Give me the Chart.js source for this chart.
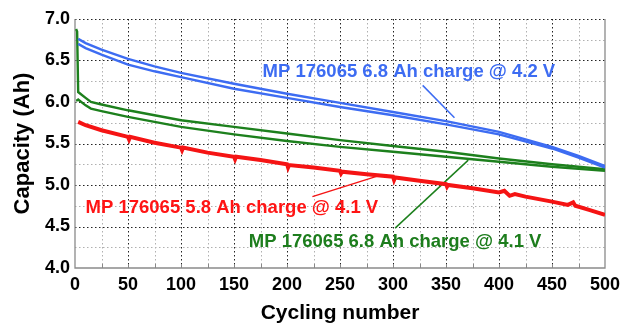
<!DOCTYPE html>
<html><head><meta charset="utf-8">
<script src="https://cdn.jsdelivr.net/npm/chart.js@4.4.1/dist/chart.umd.min.js"></script>
<style>html,body{margin:0;padding:0;background:#fff}#wrap{width:629px;height:326px}</style>
</head><body><div id="wrap"><canvas id="c" width="629" height="326"></canvas></div>
<script>
// ---- data (cycle number, capacity Ah) ----
const blueCycles = [3, 10, 25, 50, 75, 100, 150, 200, 250, 300, 350, 400, 450, 475, 500];
const blueUpper  = [6.76, 6.71, 6.63, 6.52, 6.43, 6.35, 6.22, 6.10, 5.99, 5.88, 5.77, 5.64, 5.46, 5.35, 5.23];
const blueLower  = [6.70, 6.65, 6.57, 6.45, 6.37, 6.30, 6.16, 6.05, 5.94, 5.84, 5.73, 5.61, 5.44, 5.33, 5.21];

const greenCycles = [1, 2, 3, 10, 15, 25, 50, 75, 100, 150, 200, 250, 300, 350, 400, 450, 500];
const greenUpper  = [6.88, 6.85, 6.12, 6.05, 6.00, 5.97, 5.90, 5.84, 5.78, 5.70, 5.62, 5.54, 5.47, 5.40, 5.32, 5.25, 5.19];
const greenLower  = [6.02, 6.02, 6.03, 5.96, 5.92, 5.89, 5.82, 5.76, 5.70, 5.61, 5.53, 5.46, 5.40, 5.34, 5.28, 5.22, 5.17];

const redCycles = [3, 10, 25, 50, 51, 52, 75, 100, 101, 102, 125, 150, 151, 152, 175, 200, 201, 202, 225, 250, 251, 252, 275, 300, 301, 302, 325, 350, 351, 352, 375, 400, 405, 410, 415, 425, 450, 465, 470, 472, 485, 500];
const redCap    = [5.76, 5.72, 5.66, 5.58, 5.55, 5.58, 5.51, 5.45, 5.42, 5.45, 5.39, 5.34, 5.31, 5.34, 5.30, 5.25, 5.21, 5.24, 5.21, 5.17, 5.14, 5.16, 5.13, 5.10, 5.06, 5.09, 5.05, 5.01, 4.98, 5.00, 4.96, 4.91, 4.93, 4.87, 4.89, 4.86, 4.80, 4.76, 4.79, 4.75, 4.70, 4.64];

// leader lines [cycle, Ah] start/end
const blueLeaderCycles = [328, 358];
const blueLeaderCap    = [6.20, 5.81];
const redLeaderCycles  = [224, 286];
const redLeaderCap     = [4.86, 5.11];
const greenLeaderCycles = [302, 371];
const greenLeaderCap    = [4.48, 5.30];

// annotation labels
const labelTexts  = ['MP 176065 6.8 Ah charge @ 4.2 V', 'MP 176065 5.8 Ah charge @ 4.1 V', 'MP 176065 6.8 Ah charge @ 4.1 V'];
const labelCycles = [315, 148, 302];
const labelCaps   = [6.36, 4.72, 4.31];
const labelColors = ['#3d6cf2', '#ff1414', '#1d7d1d'];

const xTicks = [0, 50, 100, 150, 200, 250, 300, 350, 400, 450, 500];
const yTicks = [4.0, 4.5, 5.0, 5.5, 6.0, 6.5, 7.0];

const BLUE = '#3d6cf2', RED = '#f51414', GREEN = '#1d801d';
const pts = (xs, ys) => xs.map((x, i) => ({x: x, y: ys[i]}));
const FONT = "'Liberation Sans', Arial, sans-serif";

const lineDs = (data, color, w) => ({data, borderColor: color, borderWidth: w, pointRadius: 0, tension: 0, fill: false});

const gridPlugin = {
  id: 'grid',
  beforeDatasetsDraw(chart) {
    const {ctx, scales: {x, y}, chartArea: a} = chart;
    ctx.save();
    ctx.lineWidth = 1;
    ctx.setLineDash([1.5, 2.5]);
    for (let v = 25; v < 500; v += 25) {
      const px = Math.round(x.getPixelForValue(v)) + 0.5;
      ctx.strokeStyle = v % 50 === 0 ? '#222' : '#b0b0b0';
      ctx.beginPath(); ctx.moveTo(px, a.top); ctx.lineTo(px, a.bottom); ctx.stroke();
    }
    for (let i = 1; i <= 12; i++) {
      const v = 4 + i * 0.25;
      const py = Math.round(y.getPixelForValue(v)) + 0.5;
      ctx.strokeStyle = i % 2 === 0 ? '#222' : '#b0b0b0';
      ctx.beginPath(); ctx.moveTo(a.left, py); ctx.lineTo(a.right, py); ctx.stroke();
    }
    ctx.setLineDash([]);
    ctx.strokeStyle = '#8a8a8a'; ctx.lineWidth = 1.3;
    ctx.beginPath();
    ctx.moveTo(a.left, a.top); ctx.lineTo(a.left, a.bottom); ctx.lineTo(a.right, a.bottom); ctx.lineTo(a.right, a.top);
    ctx.stroke();
    ctx.strokeStyle = '#888'; ctx.lineWidth = 1;
    for (let v = 25; v < 500; v += 25) {
      const px = Math.round(x.getPixelForValue(v)) + 0.5;
      ctx.beginPath(); ctx.moveTo(px, a.bottom); ctx.lineTo(px, a.bottom - 4); ctx.stroke();
    }
    ctx.restore();
  },
  afterDatasetsDraw(chart) {
    const {ctx, scales: {x, y}} = chart;
    ctx.save();
    ctx.font = 'bold 18.5px ' + FONT;
    ctx.textAlign = 'center'; ctx.textBaseline = 'middle';
    labelTexts.forEach((t, i) => {
      ctx.fillStyle = labelColors[i];
      ctx.fillText(t, x.getPixelForValue(labelCycles[i]), y.getPixelForValue(labelCaps[i]));
    });
    ctx.restore();
  }
};

new Chart(document.getElementById('c'), {
  type: 'line',
  data: {
    datasets: [
      lineDs(pts(blueCycles, blueUpper), BLUE, 2.4),
      lineDs(pts(blueCycles, blueLower), BLUE, 2.4),
      lineDs(pts(greenCycles, greenUpper), GREEN, 2.4),
      lineDs(pts(greenCycles, greenLower), GREEN, 2.4),
      lineDs(pts(redCycles, redCap), RED, 4),
      lineDs(pts(blueLeaderCycles, blueLeaderCap), BLUE, 1.5),
      lineDs(pts(redLeaderCycles, redLeaderCap), RED, 1.5),
      lineDs(pts(greenLeaderCycles, greenLeaderCap), GREEN, 1.5)
    ]
  },
  options: {
    responsive: false,
    animation: false,
    layout: {padding: {top: 19, right: 24, left: 0, bottom: 0}},
    plugins: {legend: {display: false}, tooltip: {enabled: false}},
    scales: {
      x: {
        type: 'linear', min: 0, max: 500,
        afterBuildTicks: s => { s.ticks = xTicks.map(v => ({value: v})); },
        afterFit: s => { s.height = 58; },
        ticks: {
          autoSkip: false, maxRotation: 0, padding: 6,
          color: '#000', font: {family: FONT, size: 18, weight: 'bold'},
          callback: v => String(v)
        },
        grid: {display: false, drawTicks: false},
        border: {display: false},
        title: {display: true, text: 'Cycling number', color: '#000', font: {family: FONT, size: 21, weight: 'bold'}, padding: {top: 0, bottom: 0}}
      },
      y: {
        type: 'linear', min: 4, max: 7,
        afterBuildTicks: s => { s.ticks = yTicks.map(v => ({value: v})); },
        afterFit: s => { s.width = 75; },
        ticks: {
          autoSkip: false, padding: 5,
          color: '#000', font: {family: FONT, size: 18, weight: 'bold'},
          callback: v => Number(v).toFixed(1)
        },
        grid: {display: false, drawTicks: false},
        border: {display: false},
        title: {display: true, text: 'Capacity (Ah)', color: '#000', font: {family: FONT, size: 22, weight: 'bold'}, padding: {top: 10, bottom: 0}}
      }
    }
  },
  plugins: [gridPlugin]
});
</script></body></html>
